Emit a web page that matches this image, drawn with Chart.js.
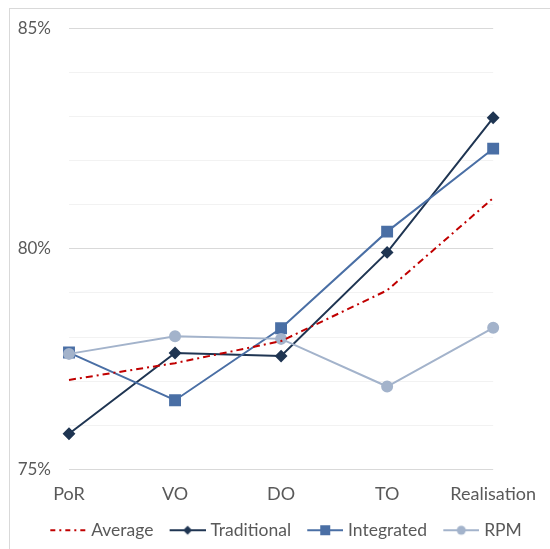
<!DOCTYPE html>
<html>
<head>
<meta charset="utf-8">
<script src="https://cdn.jsdelivr.net/npm/chart.js@4.4.1/dist/chart.umd.min.js"></script>
<style>
  html, body { margin: 0; padding: 0; background: #fff; overflow: hidden; }
  #frame { position: absolute; left: 9px; top: 8px; width: 600px; height: 600px; border: 1px solid #d9d9d9; }
  #myChart { position: absolute; left: 0; top: 0; }
</style>
</head>
<body>
<div id="frame"></div>
<canvas id="myChart" width="550" height="549"></canvas>
<script>
var stages = ["PoR", "VO", "DO", "TO", "Realisation"];
var average = [77.03, 77.41, 77.91, 79.06, 81.15];
var traditional = [75.81, 77.64, 77.57, 79.92, 82.97];
var integrated = [77.65, 76.57, 78.2, 80.39, 82.27];
var rpm = [77.62, 78.02, 77.96, 76.88, 78.21];

var red = "#c00000";
var navy = "#1f3552";
var blue = "#4a6fa5";
var grey = "#a3b3cb";

// line + marker pictures for the legend (46 wide, line sits in the right 36px)
function legendIcon(color, marker, dash) {
  var c = document.createElement("canvas");
  c.width = 46;
  c.height = 12;
  var g = c.getContext("2d");
  g.strokeStyle = color;
  g.fillStyle = color;
  g.lineWidth = 2;
  if (dash) g.setLineDash(dash);
  g.beginPath();
  g.moveTo(10, 6);
  g.lineTo(46, 6);
  g.stroke();
  g.setLineDash([]);
  g.beginPath();
  if (marker == "diamond") {
    g.moveTo(28, 1.5); g.lineTo(32.5, 6); g.lineTo(28, 10.5); g.lineTo(23.5, 6);
  } else if (marker == "square") {
    g.rect(23, 1, 10, 10);
  } else if (marker == "circle") {
    g.arc(28, 6, 4.5, 0, Math.PI * 2);
  }
  g.fill();
  return c;
}

var icons = [
  legendIcon(red, null, [5, 4, 2, 4]),
  legendIcon(navy, "diamond"),
  legendIcon(blue, "square"),
  legendIcon(grey, "circle"),
];

var ctx = document.getElementById("myChart").getContext("2d");
var chart = new Chart(ctx, {
  type: "line",
  data: {
    labels: stages,
    datasets: [
      {
        label: "Average",
        data: average,
        borderColor: red,
        borderWidth: 2,
        borderDash: [7, 4, 2, 4],
        pointRadius: 0,
        order: 0,
      },
      {
        label: "Traditional",
        data: traditional,
        borderColor: navy,
        backgroundColor: navy,
        borderWidth: 2,
        pointStyle: "rectRot",
        pointRadius: 5,
        order: 3,
      },
      {
        label: "Integrated",
        data: integrated,
        borderColor: blue,
        backgroundColor: blue,
        borderWidth: 2,
        pointStyle: "rect",
        pointRadius: 7,
        order: 2,
      },
      {
        label: "RPM",
        data: rpm,
        borderColor: grey,
        backgroundColor: grey,
        borderWidth: 2,
        pointStyle: "circle",
        pointRadius: 5,
        order: 1,
      },
    ],
  },
  options: {
    responsive: false,
    animation: false,
    layout: { padding: { left: 16, right: 0, top: 18, bottom: 0 } },
    font: { family: "Lato" },
    plugins: {
      tooltip: { enabled: false },
      legend: {
        position: "bottom",
        labels: {
          usePointStyle: true,
          pointStyleWidth: 38.25,
          boxHeight: 12,
          padding: 10,
          color: "#595959",
          font: { family: "Lato", size: 17.5 },
          generateLabels: function (chart) {
            return chart.data.datasets.map(function (ds, i) {
              return {
                text: ds.label,
                pointStyle: icons[i],
                fillStyle: ds.borderColor,
                strokeStyle: ds.borderColor,
                lineWidth: 0,
                fontColor: "#595959",
                datasetIndex: i,
              };
            });
          },
        },
      },
    },
    scales: {
      x: {
        offset: false,
        grid: { display: false, drawTicks: false },
        border: { display: false },
        afterFit: function (scale) {
          scale.height = 42;
        },
        ticks: {
          color: "#595959",
          padding: 14,
          maxRotation: 0,
          font: { family: "Lato", size: 18 },
        },
      },
      y: {
        min: 75,
        max: 85,
        afterFit: function (scale) {
          scale.width = 53;
        },
        grid: {
          drawTicks: false,
          color: function (c) {
            return c.tick && c.tick.value % 5 === 0 ? "#d9d9d9" : "#f2f2f2";
          },
        },
        border: { display: false },
        ticks: {
          stepSize: 1,
          padding: 18,
          color: "#595959",
          font: { family: "Lato", size: 17 },
          callback: function (v) {
            return v % 5 === 0 ? v + "%" : "";
          },
        },
      },
      // empty axis that only keeps the space right of the plot
      yRight: {
        type: "linear",
        position: "right",
        grid: { display: false, drawTicks: false },
        border: { display: false },
        ticks: { display: false },
        afterFit: function (scale) {
          scale.width = 53;
        },
      },
    },
  },
});
</script>
</body>
</html>
